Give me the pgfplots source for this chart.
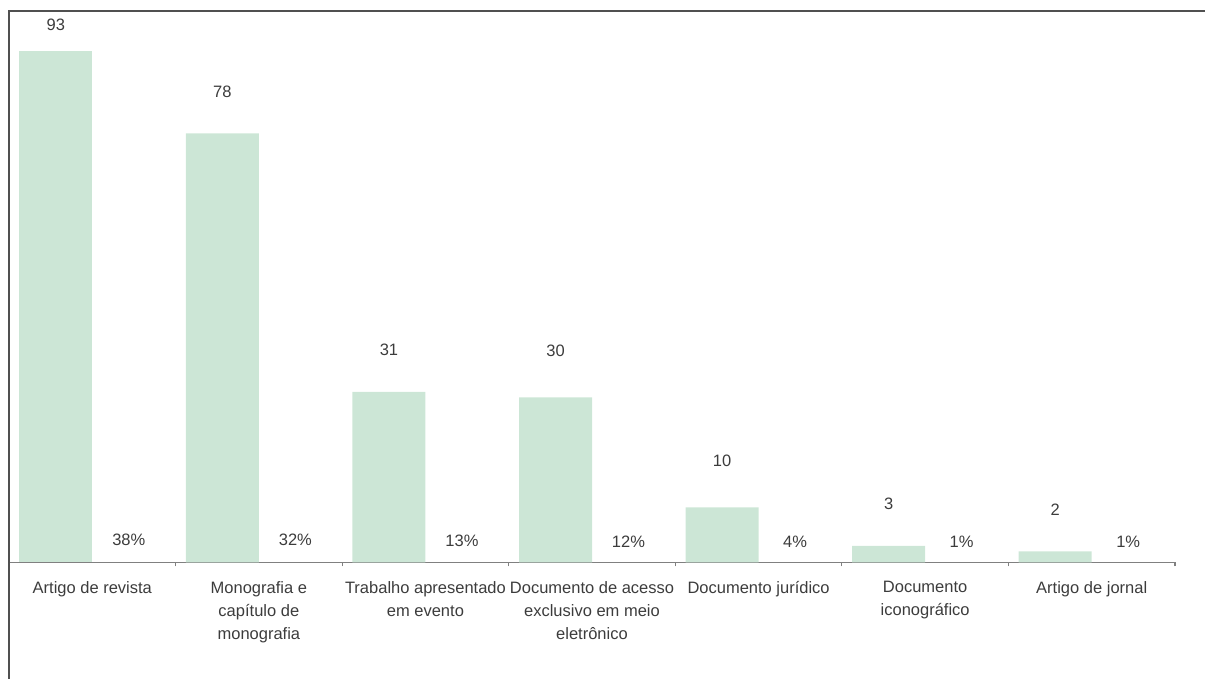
\documentclass[border=0pt]{standalone}
\usepackage{pgfplots}
\pgfplotsset{compat=1.18}
\usepackage{fontspec}
\setmainfont{Liberation Sans}
\definecolor{barg}{RGB}{204,230,214}
\definecolor{txt}{RGB}{60,60,60}
\definecolor{axg}{RGB}{128,128,128}
\definecolor{frm}{RGB}{80,80,80}
\newcommand{\lblfont}{\fontsize{8.25}{11.5}\selectfont}
\begin{document}
\begin{tikzpicture}
\path[use as bounding box] (0,0) rectangle (602.5pt,339.5pt);
\begin{axis}[
  at={(4.5pt,58.25pt)}, anchor=south west,
  scale only axis, width=583pt, height=275pt,
  xmin=-0.5, xmax=6.5, ymin=0, ymax=100,
  ybar, bar width=36.5pt,
  axis x line=bottom, axis y line=none,
  x axis line style={-, draw=axg, line width=0.6pt},
  xtick={0,1,2,3,4,5,6},
  xticklabels={Artigo de revista, {Monografia e\\capítulo de\\monografia}, {Trabalho apresentado\\em evento}, {Documento de acesso\\exclusivo em meio\\eletrônico}, Documento jurídico, {Documento\\iconográfico}, Artigo de jornal},
  major tick length=0pt,
  xticklabel style={font=\lblfont, text=txt, align=center, yshift=-6pt},
  extra x ticks={-0.5,0.5,1.5,2.5,3.5,4.5,5.5,6.5},
  extra x tick labels={},
  extra x tick style={major tick length=2pt, tick align=outside, tick style={draw=axg, line width=0.6pt}},
  clip=false,
  valstyle/.style={fill=barg, draw=none, bar shift=-18.25pt, point meta=explicit symbolic,
    nodes near coords, every node near coord/.append style={font=\lblfont, text=txt, anchor=center, yshift=#1}},
]
\addplot[valstyle=13pt] coordinates {(0,93)[93]};
\addplot[valstyle=21pt] coordinates {(1,78)[78] (2,31)[31] (5,3)[3] (6,2)[2]};
\addplot[valstyle=23.5pt] coordinates {(3,30)[30] (4,10)[10]};
\addplot[fill=none, draw=none, bar shift=18.25pt, point meta=explicit symbolic,
  nodes near coords, every node near coord/.append style={font=\lblfont, text=txt, anchor=center, yshift=10.25pt}]
  coordinates {(0,0.38)[38\%] (1,0.32)[32\%] (2,0.13)[13\%] (3,0.12)[12\%] (4,0.04)[4\%] (5,0.01)[1\%] (6,0.01)[1\%]};
\end{axis}
\draw[frm, line width=0.75pt] (4.5pt,0) -- (4.5pt,334pt) -- (602.5pt,334pt);
\end{tikzpicture}
\end{document}
